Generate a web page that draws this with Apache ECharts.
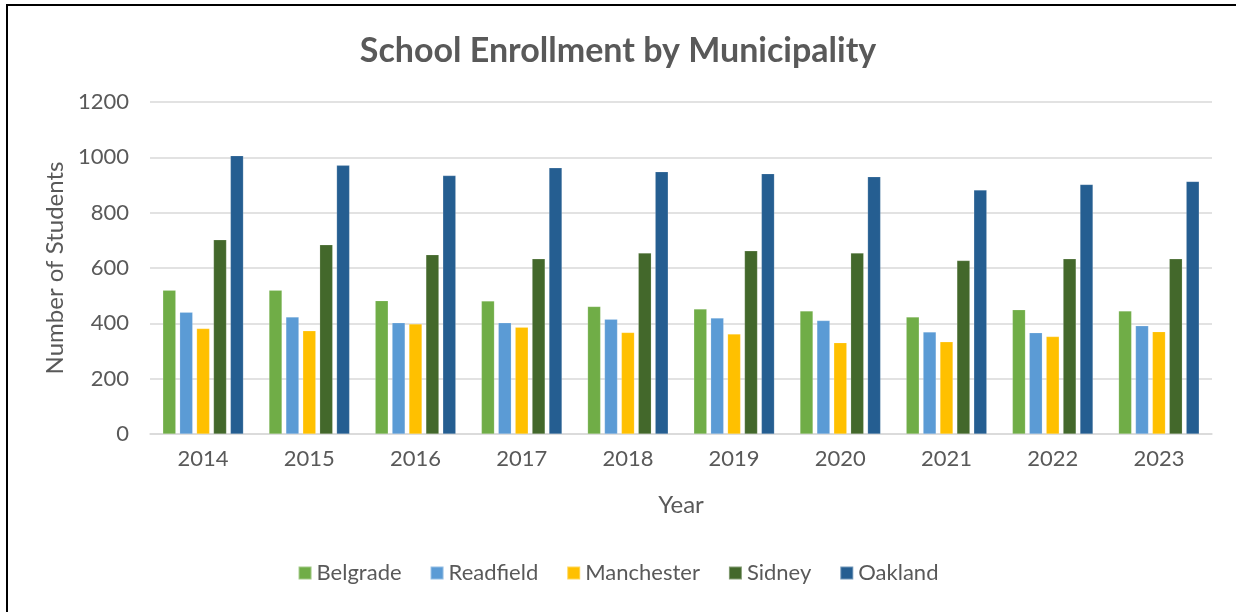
<!DOCTYPE html>
<html>
<head>
<meta charset="utf-8">
<script src="https://cdn.jsdelivr.net/npm/echarts@6/dist/echarts.min.js"></script>
<style>
  html, body { margin: 0; padding: 0; background: #fff; }
  #chart { width: 1236px; height: 612px; }
</style>
</head>
<body>
<div id="chart"></div>
<script>
const years = ['2014','2015','2016','2017','2018','2019','2020','2021','2022','2023'];
const belgrade   = [520, 520, 482, 481, 461, 452, 445, 423, 449, 445];
const readfield  = [440, 423, 402, 402, 415, 419, 410, 369, 366, 391];
const manchester = [381, 373, 398, 386, 367, 361, 330, 333, 352, 370];
const sidney     = [702, 684, 648, 633, 654, 662, 654, 627, 633, 633];
const oakland    = [1006, 971, 934, 962, 948, 941, 930, 882, 902, 913];
const seriesNames = ['Belgrade','Readfield','Manchester','Sidney','Oakland'];
const seriesData = [belgrade, readfield, manchester, sidney, oakland];
const colors = ['#70AD47','#5B9BD5','#FFC000','#43682B','#255E91'];

const FONT = 'Lato, "Open Sans", sans-serif';
const chart = echarts.init(document.getElementById('chart'), null, { renderer: 'canvas' });
chart.setOption({
  animation: false,
  backgroundColor: '#ffffff',
  color: colors,
  title: {
    text: 'School Enrollment by Municipality',
    left: 'center',
    top: 29,
    textStyle: { fontFamily: FONT, fontSize: 34, fontWeight: 'bold', color: '#595959' }
  },
  legend: {
    data: seriesNames,
    bottom: 23,
    left: 'center',
    itemWidth: 13,
    itemHeight: 13,
    itemGap: 28,
    icon: 'rect',
    textStyle: { fontFamily: FONT, fontSize: 22, color: '#595959' }
  },
  grid: { left: 150, right: 24, top: 102, bottom: 178, containLabel: false },
  xAxis: {
    type: 'category',
    data: years,
    name: 'Year',
    nameLocation: 'middle',
    nameGap: 59,
    nameTextStyle: { fontFamily: FONT, fontSize: 24, color: '#595959' },
    axisLine: { lineStyle: { color: '#d9d9d9', width: 1.5 } },
    axisTick: { show: false },
    axisLabel: { fontFamily: FONT, fontSize: 22, color: '#595959', margin: 14 }
  },
  yAxis: {
    type: 'value',
    min: 0,
    max: 1200,
    interval: 200,
    name: 'Number of Students',
    nameLocation: 'middle',
    nameGap: 78,
    nameTextStyle: { fontFamily: FONT, fontSize: 24, color: '#595959' },
    axisLine: { show: false },
    axisTick: { show: false },
    axisLabel: { fontFamily: FONT, fontSize: 22, color: '#595959', margin: 21, formatter: v => String(v) },
    splitLine: { lineStyle: { color: '#d9d9d9', width: 1.5 } }
  },
  series: seriesNames.map((n, i) => ({
    name: n,
    type: 'bar',
    data: seriesData[i],
    barWidth: 13,
    barGap: '30%',
    itemStyle: { color: colors[i], borderColor: 'rgba(255,255,255,0.35)', borderWidth: 0.5 }
  })),
  graphic: [
    { type: 'line', shape: { x1: 7, y1: 4, x2: 7, y2: 612 }, style: { stroke: '#000', lineWidth: 2 } },
    { type: 'line', shape: { x1: 6, y1: 5, x2: 1236, y2: 5 }, style: { stroke: '#000', lineWidth: 2 } }
  ]
});
</script>
</body>
</html>
